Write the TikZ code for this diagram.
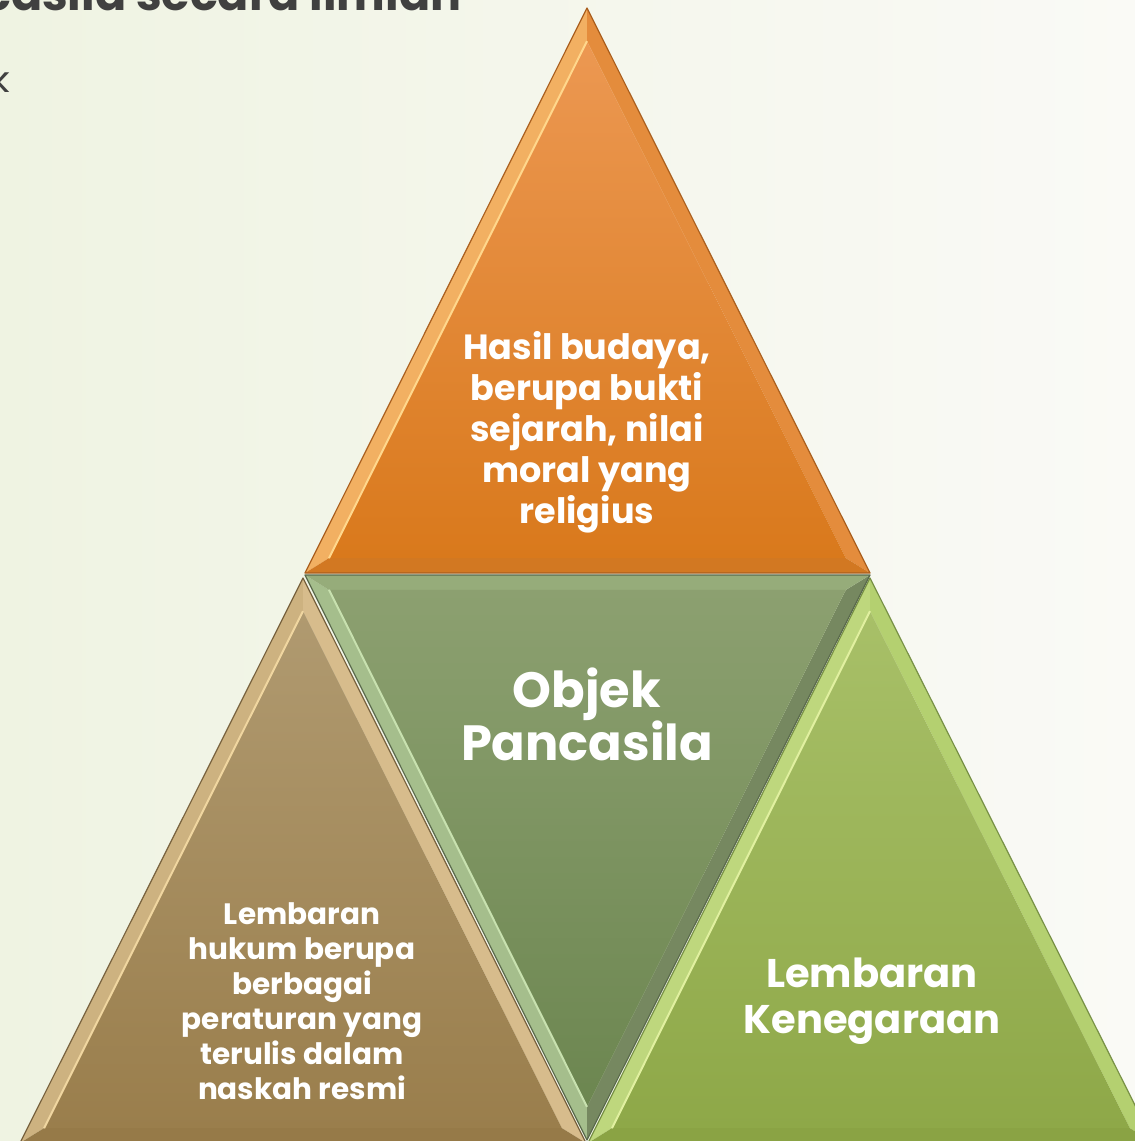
\documentclass[tikz,border=0pt]{standalone}
\usepackage{fontspec}
\setmainfont{Poppins}
\usetikzlibrary{calc}
\definecolor{bgA}{HTML}{EFF3E2}
\definecolor{bgB}{HTML}{FAFAF6}
\definecolor{ttl}{HTML}{404040}
% orange
\definecolor{oL}{RGB}{242,176,98}
\definecolor{oR}{RGB}{228,140,60}
\definecolor{oB}{RGB}{210,120,34}
\definecolor{oT}{RGB}{236,152,82}
\definecolor{oM}{RGB}{217,121,28}
\definecolor{oH}{RGB}{255,215,140}
\definecolor{oE}{RGB}{170,95,30}
% brown
\definecolor{bL}{RGB}{205,178,128}
\definecolor{bR}{RGB}{215,188,140}
\definecolor{bB}{RGB}{150,122,72}
\definecolor{bT}{RGB}{176,154,112}
\definecolor{bM}{RGB}{154,126,76}
\definecolor{bH}{RGB}{240,214,160}
\definecolor{bE}{RGB}{120,98,62}
% right green
\definecolor{gL}{RGB}{190,215,125}
\definecolor{gR}{RGB}{180,208,112}
\definecolor{gB}{RGB}{138,163,68}
\definecolor{gT}{RGB}{168,192,104}
\definecolor{gM}{RGB}{142,168,72}
\definecolor{gH}{RGB}{225,240,160}
\definecolor{gE}{RGB}{120,145,70}
% middle green
\definecolor{mL}{RGB}{165,190,140}
\definecolor{mR}{RGB}{118,136,96}
\definecolor{mBb}{RGB}{150,172,122}
\definecolor{mT}{RGB}{140,160,112}
\definecolor{mM}{RGB}{108,134,80}
\definecolor{mH}{RGB}{200,225,175}
\definecolor{mE}{RGB}{90,106,76}
\newcommand\bevtri[9]{%
  \coordinate (q1) at ($(#4)!0.915!(#1)$);
  \coordinate (q2) at ($(#4)!0.915!(#2)$);
  \coordinate (q3) at ($(#4)!0.915!(#3)$);
  \fill[#5] (#1) -- (#2) -- (q2) -- (q1) -- cycle;
  \fill[#6] (#1) -- (#3) -- (q3) -- (q1) -- cycle;
  \fill[#7] (#2) -- (#3) -- (q3) -- (q2) -- cycle;
  \shade[top color=#8, bottom color=#9] (q1) -- (q2) -- (q3) -- cycle;
}
\tikzset{
  lbl/.style={text=white, align=center, inner sep=0pt},
  edge/.style={line width=1.2pt, line join=round},
}
\begin{document}
\begin{tikzpicture}[x=1pt,y=-1pt]
\useasboundingbox (0,0) rectangle (1135,1141);
\clip (0,0) rectangle (1135,1141);
\shade[shading=axis, shading angle=-60, left color=bgA, right color=bgB] (0,0) rectangle (1135,1141);

% title fragments
\node[anchor=base west, inner sep=0pt, text=ttl, font=\bfseries\fontsize{46}{50}\selectfont] (title) at (-17,10) {casila secara ilmiah};
\node[anchor=base west, inner sep=0pt, text=ttl, font=\fontsize{36}{40}\selectfont] (kk) at (-9,92) {k};

% top orange triangle
\coordinate (tA) at (587,8);
\coordinate (tB) at (305,573);
\coordinate (tC) at (870,573);
\coordinate (tI) at (587,398.4);
\bevtri{tA}{tB}{tC}{tI}{oL}{oR}{oB}{oT}{oM}
\draw[line width=2pt, oH] (q1) -- (q2);
\draw[edge, oE] (tA) -- (tB) -- (tC) -- cycle;

% left brown triangle
\coordinate (lA) at (303,578);
\coordinate (lB) at (20,1143);
\coordinate (lC) at (586,1143);
\coordinate (lI) at (303,968.4);
\bevtri{lA}{lB}{lC}{lI}{bL}{bR}{bB}{bT}{bM}
\draw[line width=2pt, bH] (q1) -- (q2);
\draw[edge, bE] (lA) -- (lB) -- (lC) -- cycle;

% right green triangle
\coordinate (rA) at (870,578);
\coordinate (rB) at (588,1143);
\coordinate (rC) at (1154,1143);
\coordinate (rI) at (870,968.4);
\bevtri{rA}{rB}{rC}{rI}{gL}{gR}{gB}{gT}{gM}
\draw[line width=2pt, gH] (q1) -- (q2);
\draw[edge, gE] (rA) -- (rB) -- (rC) -- cycle;

% middle inverted green triangle
\coordinate (mA) at (587,1140);
\coordinate (mB) at (305,575);
\coordinate (mC) at (870,575);
\coordinate (mI) at (587,749.6);
\bevtri{mA}{mB}{mC}{mI}{mL}{mR}{mBb}{mT}{mM}
\draw[line width=2pt, mH] (q1) -- (q2);
\draw[edge, mE] (mA) -- (mB) -- (mC) -- cycle;

% labels
\node[lbl, font=\bfseries\fontsize{35}{41}\selectfont] (top) at (587,432) {Hasil budaya,\\berupa bukti\\sejarah, nilai\\moral yang\\religius};
\node[lbl, font=\bfseries\fontsize{49.5}{53}\selectfont] (mid) at (587,714) {Objek\\Pancasila};
\node[lbl, font=\bfseries\fontsize{29.5}{35}\selectfont] (left) at (302,1001) {Lembaran\\hukum berupa\\berbagai\\peraturan yang\\terulis dalam\\naskah resmi};
\node[lbl, font=\bfseries\fontsize{40}{46}\selectfont] (right) at (872,1001) {Lembaran\\Kenegaraan};
\end{tikzpicture}
\end{document}
